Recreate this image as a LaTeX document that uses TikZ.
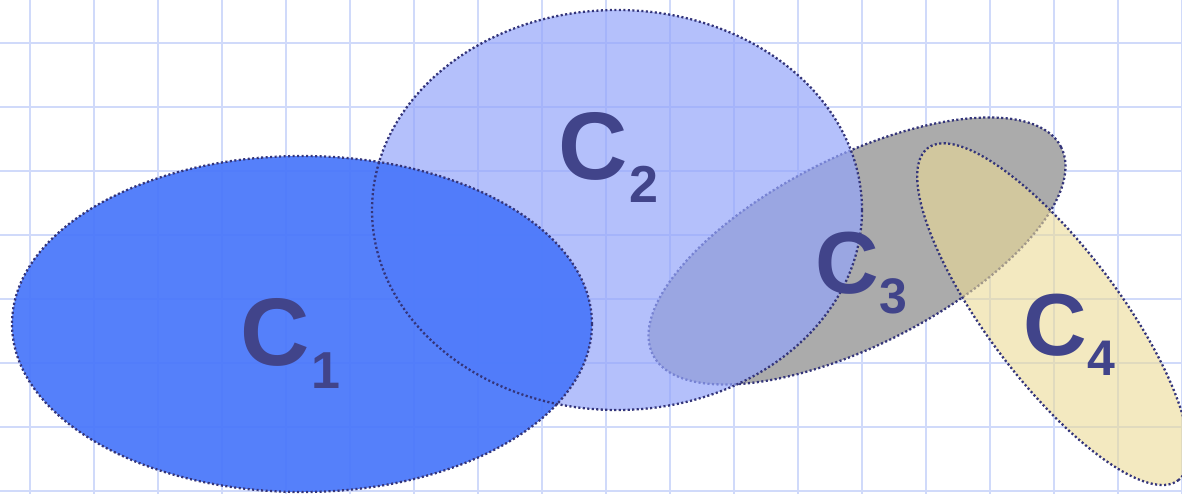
\documentclass[tikz,border=0pt]{standalone}
\usepackage{fontspec}
\setmainfont{Liberation Sans}
\usetikzlibrary{positioning}
\definecolor{GridLine}{HTML}{D0DAFA}
\definecolor{Rim}{HTML}{34357A}
\definecolor{Ink}{HTML}{41448A}
\definecolor{SetOne}{HTML}{4C79FA}
\definecolor{SetTwo}{HTML}{94A5FA}
\definecolor{SetThree}{HTML}{ABABAB}
\definecolor{SetFour}{HTML}{EBDA96}

\begin{document}
\begin{tikzpicture}[x=1pt,y=-1pt,
    gridline/.style={GridLine,line width=2pt},
    rim/.style={draw=Rim,line width=2.3pt,dash pattern=on 2.1pt off 2.4pt},
    setlabel/.style={text=Ink,inner sep=0pt,anchor=base west,font=\bfseries\fontsize{96}{96}\selectfont},
    smalllabel/.style={setlabel,font=\bfseries\fontsize{88}{88}\selectfont}]
    \useasboundingbox (0,0) rectangle (1182,494);
    \clip (0,0) rectangle (1182,494);
    % squared paper
    \foreach \gx in {30,94,...,1182} \draw[gridline] (\gx,0) -- (\gx,494);
    \foreach \gy in {43,107,...,491} \draw[gridline] (0,\gy) -- (1182,\gy);
    % centres of the four sets
    \coordinate (o1) at (302,324);
    \coordinate (o2) at (617,210);
    \coordinate (o3) at (857,251);
    \coordinate (o4) at (1053,314);
    % sets
    \path[fill=SetThree,rim,rotate around={27:(o3)}] (o3) ellipse [x radius=229pt,y radius=94pt];
    \fill[SetTwo,fill opacity=0.7] (o2) ellipse [x radius=245pt,y radius=200pt];
    \fill[SetOne,fill opacity=0.95] (o1) ellipse [x radius=290pt,y radius=168pt];
    \path[rim] (o1) ellipse [x radius=290pt,y radius=168pt];
    \path[rim] (o2) ellipse [x radius=245pt,y radius=200pt];
    \path[fill=SetFour,fill opacity=0.6,rim,rotate around={-53:(o4)}] (o4) ellipse [x radius=208pt,y radius=66pt];
    % labels
    \node[setlabel] (lab1) at (240,365) {C\kern2pt\raisebox{-23pt}{\fontsize{52}{52}\selectfont 1}};
    \node[setlabel] (lab2) at (558,180) {C\kern2pt\raisebox{-23pt}{\fontsize{52}{52}\selectfont 2}};
    \node[smalllabel] (lab3) at (815,293) {C\kern1pt\raisebox{-20pt}{\fontsize{50}{50}\selectfont 3}};
    \node[smalllabel] (lab4) at (1023,355) {C\kern1pt\raisebox{-20pt}{\fontsize{50}{50}\selectfont 4}};
\end{tikzpicture}
\end{document}
